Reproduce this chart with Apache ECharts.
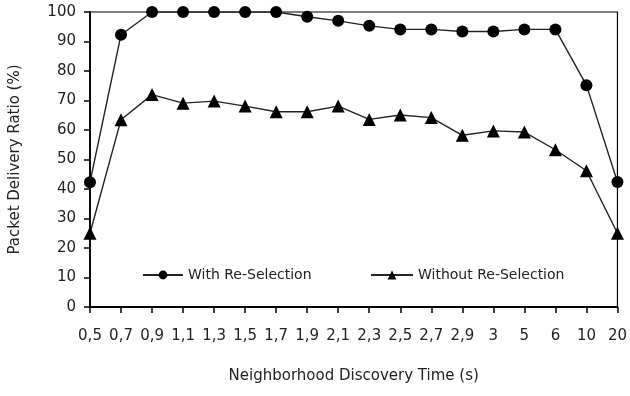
<!DOCTYPE html>
<html><head><meta charset="utf-8">
<script src="https://cdn.jsdelivr.net/npm/echarts@6/dist/echarts.min.js"></script>
<style>html,body{margin:0;padding:0;background:#fff}#c{width:630px;height:396px}</style>
</head><body><div id="c"></div>
<script>
const categories = ['0,5','0,7','0,9','1,1','1,3','1,5','1,7','1,9','2,1','2,3','2,5','2,7','2,9','3','5','6','10','20'];
const withReSelection = [42.3, 92.3, 100, 100, 100, 100, 100, 98.4, 97, 95.3, 94.1, 94.1, 93.4, 93.4, 94.1, 94.1, 75.2, 42.4];
const withoutReSelection = [25, 63.5, 72, 69.1, 69.8, 68.1, 66.2, 66.2, 68.1, 63.6, 65.1, 64.2, 58.2, 59.7, 59.3, 53.3, 46.2, 25];
const yTicks = [0, 100, 10];

const font = 'DejaVu Sans, sans-serif';
const chart = echarts.init(document.getElementById('c'));
chart.setOption({
  animation: false,
  grid: {left: 90, right: 9, top: 12, bottom: 89, show: true, borderColor: '#000', borderWidth: 1.2, backgroundColor: 'transparent'},
  legend: [
    {data: ['With Re-Selection'], left: 137, top: 263, itemWidth: 40, itemHeight: 11, itemGap: 0,
     textStyle: {fontFamily: font, fontSize: 14, color: '#222'}},
    {data: ['Without Re-Selection'], left: 365, top: 263, itemWidth: 42, itemHeight: 11, itemGap: 0,
     textStyle: {fontFamily: font, fontSize: 14, color: '#222'}}
  ],
  xAxis: {
    type: 'category', data: categories, boundaryGap: false,
    name: 'Neighborhood Discovery Time (s)', nameLocation: 'middle', nameGap: 62,
    nameTextStyle: {fontFamily: font, fontSize: 15, color: '#222'},
    axisLine: {lineStyle: {color: '#000', width: 1.8}},
    axisTick: {alignWithLabel: true, length: 6, lineStyle: {color: '#000', width: 1.5}},
    axisLabel: {fontFamily: font, fontSize: 15, color: '#222', margin: 22, interval: 0},
    splitLine: {show: false}
  },
  yAxis: {
    type: 'value', min: yTicks[0], max: yTicks[1], interval: yTicks[2],
    name: 'Packet Delivery Ratio (%)', nameLocation: 'middle', nameGap: 67,
    nameTextStyle: {fontFamily: font, fontSize: 15, color: '#222'},
    axisLine: {show: true, lineStyle: {color: '#000', width: 1.8}},
    axisTick: {show: true, length: 6, lineStyle: {color: '#000', width: 1.5}},
    axisLabel: {fontFamily: font, fontSize: 15, color: '#222', margin: 14},
    splitLine: {show: false}
  },
  series: [
    {name: 'With Re-Selection', type: 'line', data: withReSelection, symbol: 'circle', symbolSize: 12,
     itemStyle: {color: '#000'}, lineStyle: {color: '#222', width: 1.4}},
    {name: 'Without Re-Selection', type: 'line', data: withoutReSelection, symbol: 'triangle', symbolSize: 13,
     itemStyle: {color: '#000'}, lineStyle: {color: '#222', width: 1.4}}
  ]
});
</script></body></html>
